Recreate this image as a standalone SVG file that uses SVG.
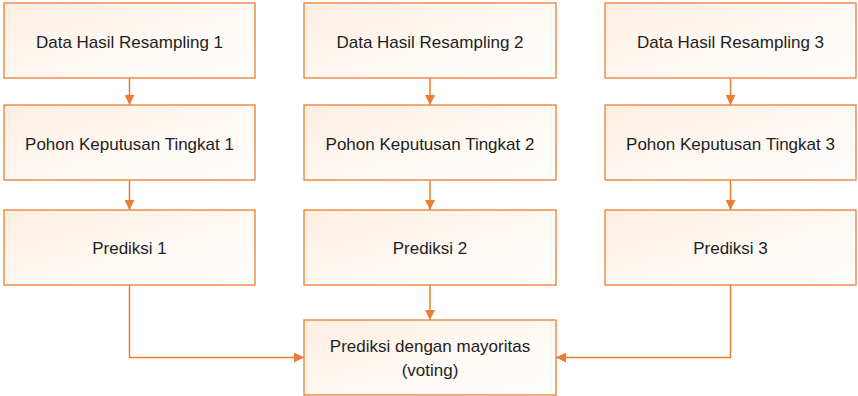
<svg xmlns="http://www.w3.org/2000/svg" width="858" height="396" viewBox="0 0 858 396">
  <defs>
    <linearGradient id="boxFill" x1="0" y1="0" x2="1" y2="1">
      <stop offset="0" stop-color="#FCEEE0"/>
      <stop offset="0.5" stop-color="#FEF8F2"/>
      <stop offset="1" stop-color="#FFFFFF"/>
    </linearGradient>
    <marker id="arrow" viewBox="0 0 10 10" refX="10" refY="5" markerWidth="10" markerHeight="10" markerUnits="userSpaceOnUse" orient="auto">
      <path d="M0,0 L10,5 L0,10 z" fill="#ED7D31"/>
    </marker>
  </defs>
  <style>
    .box { fill: url(#boxFill); stroke: #ED7D31; stroke-width: 1.3; }
    .label { font-family: "Liberation Sans", Arial, sans-serif; font-size: 17px; fill: #1E1E1E; text-anchor: middle; dominant-baseline: central; }
    .conn { fill: none; stroke: #ED7D31; stroke-width: 1.5; marker-end: url(#arrow); }
  </style>

  <!-- column 1 -->
  <g id="data1"><rect class="box" x="4" y="3" width="251" height="75"/><text class="label" x="129.5" y="42">Data Hasil Resampling 1</text></g>
  <g id="pohon1"><rect class="box" x="4" y="105" width="251" height="75"/><text class="label" x="129.5" y="144">Pohon Keputusan Tingkat 1</text></g>
  <g id="prediksi1"><rect class="box" x="4" y="210" width="251" height="75"/><text class="label" x="129.5" y="248">Prediksi 1</text></g>

  <!-- column 2 -->
  <g id="data2"><rect class="box" x="304" y="3" width="252" height="75"/><text class="label" x="430" y="42">Data Hasil Resampling 2</text></g>
  <g id="pohon2"><rect class="box" x="304" y="105" width="252" height="75"/><text class="label" x="430" y="144">Pohon Keputusan Tingkat 2</text></g>
  <g id="prediksi2"><rect class="box" x="304" y="210" width="252" height="75"/><text class="label" x="430" y="248">Prediksi 2</text></g>

  <!-- column 3 -->
  <g id="data3"><rect class="box" x="605" y="3" width="251" height="75"/><text class="label" x="730.5" y="42">Data Hasil Resampling 3</text></g>
  <g id="pohon3"><rect class="box" x="605" y="105" width="251" height="75"/><text class="label" x="730.5" y="144">Pohon Keputusan Tingkat 3</text></g>
  <g id="prediksi3"><rect class="box" x="605" y="210" width="251" height="75"/><text class="label" x="730.5" y="248">Prediksi 3</text></g>

  <!-- majority vote -->
  <g id="voting"><rect class="box" x="304" y="320" width="252" height="75"/><text class="label" x="430" y="346">Prediksi dengan mayoritas</text><text class="label" x="430" y="370">(voting)</text></g>

  <g id="connectors">
    <line class="conn" x1="129.5" y1="78" x2="129.5" y2="105"/>
    <line class="conn" x1="129.5" y1="180" x2="129.5" y2="210"/>
    <line class="conn" x1="430" y1="78" x2="430" y2="105"/>
    <line class="conn" x1="430" y1="180" x2="430" y2="210"/>
    <line class="conn" x1="730.5" y1="78" x2="730.5" y2="105"/>
    <line class="conn" x1="730.5" y1="180" x2="730.5" y2="210"/>
    <line class="conn" x1="430" y1="285" x2="430" y2="320"/>
    <polyline class="conn" points="129.5,285 129.5,357.5 304,357.5"/>
    <polyline class="conn" points="730.5,285 730.5,357.5 556,357.5"/>
  </g>
</svg>
